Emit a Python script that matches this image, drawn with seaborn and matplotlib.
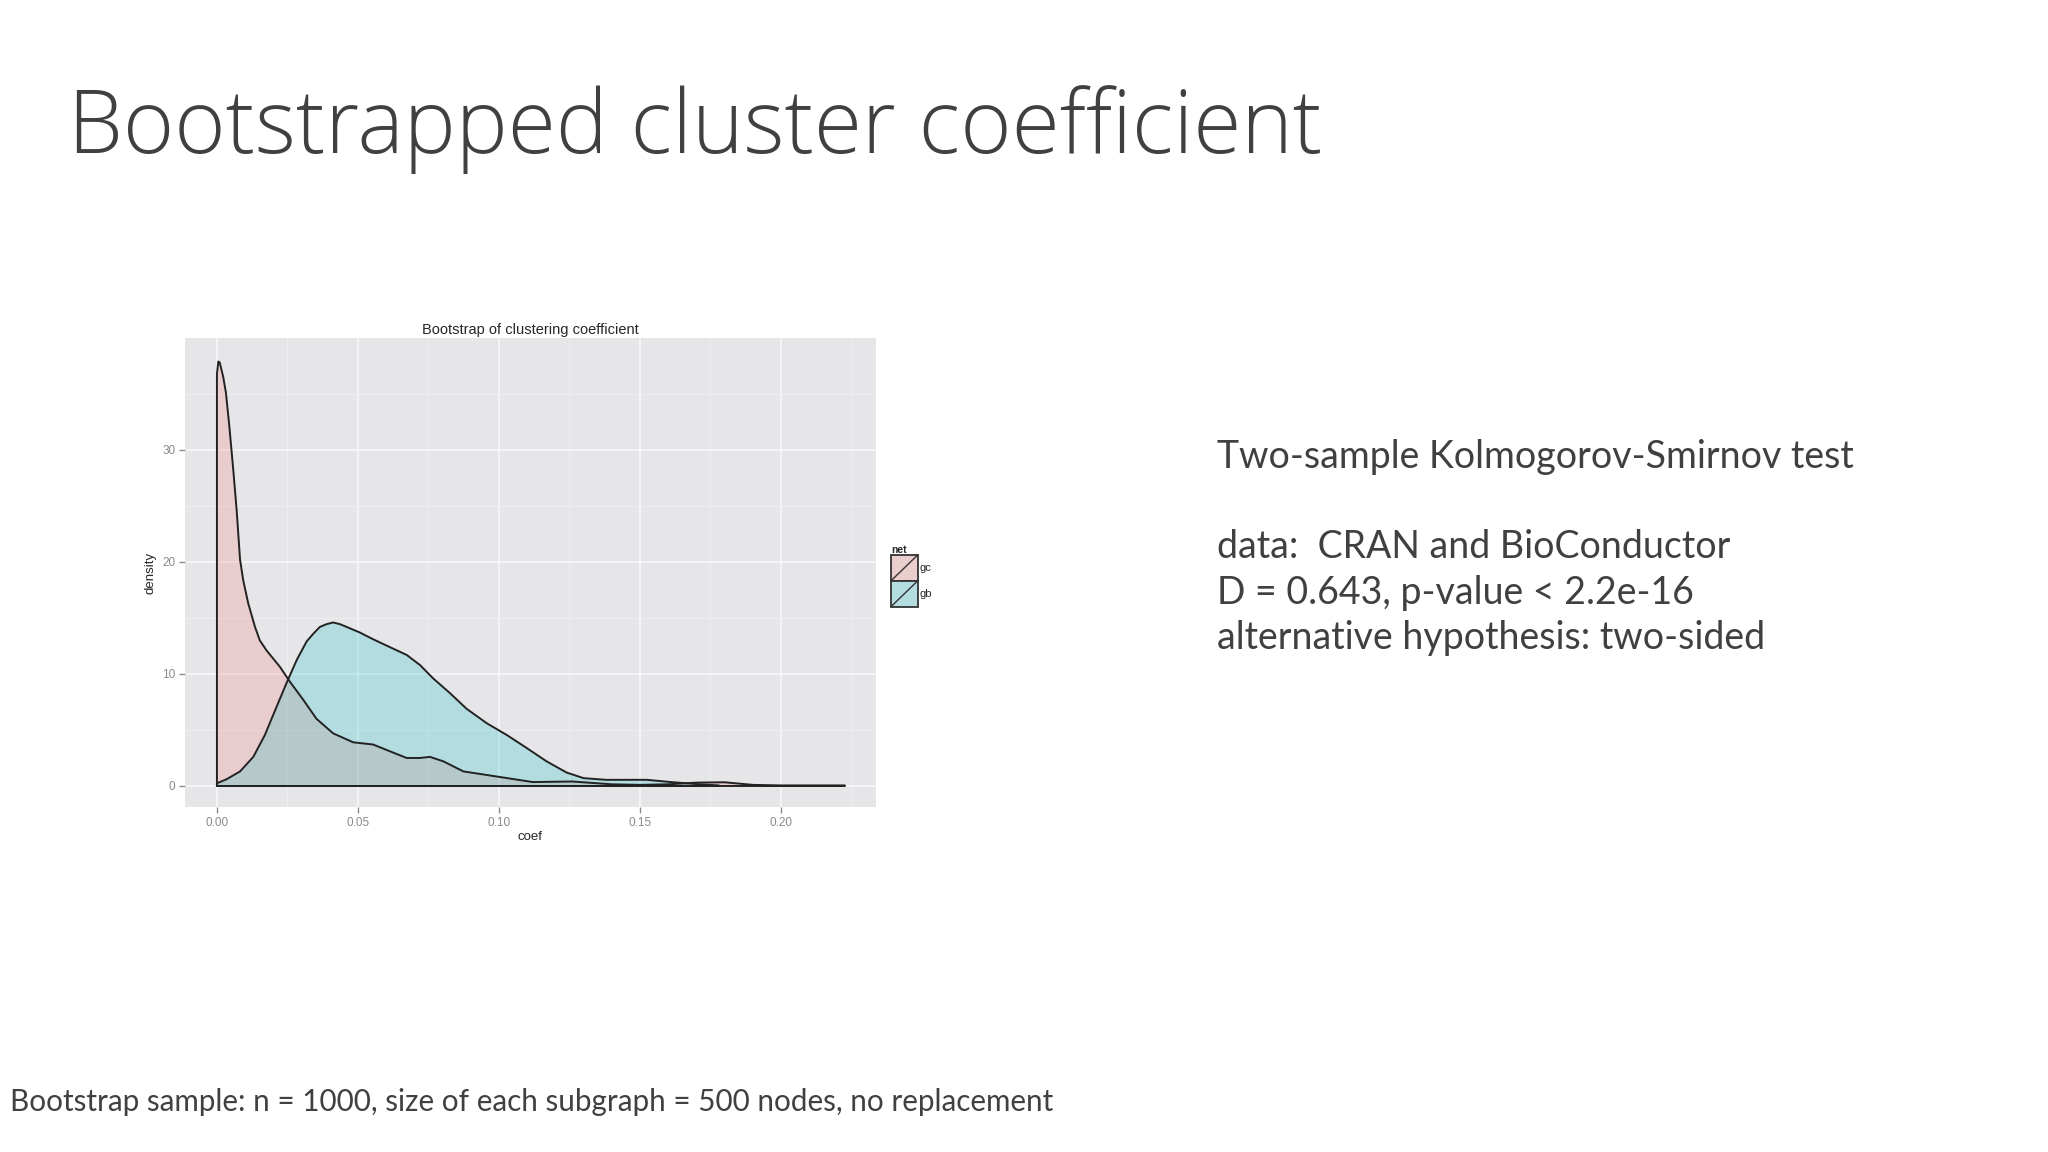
import matplotlib
matplotlib.use("Agg")
import matplotlib.pyplot as plt
import matplotlib.colors as mcolors
import numpy as np
import seaborn as sns
from matplotlib.legend_handler import HandlerBase
from matplotlib.patches import Rectangle
from matplotlib.lines import Line2D

# density curves
gc_x = [0.0, 0.0005, 0.001, 0.00225, 0.0032, 0.0044, 0.0058, 0.0070, 0.0082, 0.0093,
        0.0111, 0.0135, 0.0152, 0.0176, 0.0223, 0.0259, 0.0306, 0.0353, 0.0412,
        0.0483, 0.0554, 0.0613, 0.0673, 0.0720, 0.0755, 0.0803, 0.0874, 0.0991,
        0.112, 0.126, 0.140, 0.150, 0.160, 0.170, 0.180, 0.190, 0.200, 0.210, 0.2227]
gc_y = [36.8, 37.9, 37.8, 36.5, 35.1, 32.1, 28.2, 24.6, 20.2, 18.4,
        16.3, 14.2, 13.0, 12.1, 10.65, 9.3, 7.7, 6.0, 4.7,
        3.9, 3.7, 3.1, 2.5, 2.5, 2.6, 2.2, 1.3, 0.85,
        0.35, 0.4, 0.15, 0.1, 0.15, 0.3, 0.33, 0.1, 0.05, 0.05, 0.05]

gb_x = [0.0, 0.0034, 0.0082, 0.0129, 0.017, 0.0212, 0.0247, 0.0283, 0.0318, 0.0342,
        0.0365, 0.0389, 0.0412, 0.0436, 0.046, 0.0507, 0.0554, 0.0613, 0.0673,
        0.072, 0.0767, 0.0826, 0.0885, 0.0957, 0.1028, 0.1098, 0.1169, 0.124,
        0.13, 0.138, 0.150, 0.1524, 0.161, 0.171, 0.178]
gb_y = [0.24, 0.6, 1.3, 2.6, 4.55, 7.1, 9.2, 11.25, 12.9, 13.6,
        14.2, 14.45, 14.6, 14.45, 14.2, 13.7, 13.1, 12.4, 11.7,
        10.8, 9.6, 8.3, 6.9, 5.6, 4.55, 3.4, 2.2, 1.2,
        0.7, 0.55, 0.55, 0.55, 0.35, 0.15, 0.05]

nets = ["gc", "gb"]
net_colors = {"gc": "#F8766D", "gb": "#00BFC4"}
x_ticks = [0.00, 0.05, 0.10, 0.15, 0.20]
y_ticks = [0, 10, 20, 30]

title = "Bootstrapped cluster coefficient"
chart_title = "Bootstrap of clustering coefficient"
ks_lines = ["Two-sample Kolmogorov-Smirnov test",
            "",
            "data:  CRAN and BioConductor",
            "D = 0.643, p-value < 2.2e-16",
            "alternative hypothesis: two-sided"]
footer = "Bootstrap sample: n = 1000, size of each subgraph = 500 nodes, no replacement"

sns.set_style("white")
plt.rcParams["font.family"] = ["Lato", "DejaVu Sans"]

text_grey = "#404040"
panel_bg = "#E6E5E8"
fill_alpha = 0.22
r_font = ["Liberation Sans", "DejaVu Sans"]


def blend(c):
    a = np.array(mcolors.to_rgb(c))
    b = np.array(mcolors.to_rgb(panel_bg))
    return tuple(fill_alpha * a + (1 - fill_alpha) * b)


class DensityKey(HandlerBase):
    # ggplot style legend key: filled box with a diagonal line
    def create_artists(self, legend, orig, xd, yd, w, h, fontsize, trans):
        box = Rectangle((-xd, -yd), w, h, facecolor=orig.get_facecolor(),
                        edgecolor="#333333", lw=1.3, transform=trans)
        diag = Line2D([-xd, -xd + w], [-yd, -yd + h], color="#333333", lw=1.0,
                      transform=trans)
        return [box, diag]


fig = plt.figure(figsize=(20.48, 11.52), dpi=100)
fig.patch.set_facecolor("white")

ax = fig.add_axes([0.0903, 0.2995, 0.3374, 0.4071])
ax.set_facecolor(panel_bg)

curves = {"gc": (gc_x, gc_y), "gb": (gb_x, gb_y)}
handles = []
for net in nets:
    xs, ys = curves[net]
    ax.fill_between(xs, ys, 0, color=net_colors[net], alpha=fill_alpha, lw=0, zorder=2)
    ox = [xs[0]] + xs + [xs[-1], xs[0]]
    oy = [0] + ys + [0, 0]
    sns.lineplot(x=ox, y=oy, sort=False, estimator=None, color="#222222",
                 lw=1.4, ax=ax, zorder=3)
    handles.append(Rectangle((0, 0), 1, 1, facecolor=blend(net_colors[net]), label=net))

ax.set_xlim(-0.01135, 0.2337)
ax.set_ylim(-1.875, 40.0)
ax.set_xticks(x_ticks)
ax.set_xticklabels([f"{t:.2f}" for t in x_ticks])
ax.set_yticks(y_ticks)
ax.set_xticks([0.025, 0.075, 0.125, 0.175, 0.225], minor=True)
ax.set_yticks([5, 15, 25, 35], minor=True)
ax.grid(which="major", color="#F7F7F8", lw=1.2, zorder=0)
ax.grid(which="minor", color="#EEEEF0", lw=0.8, zorder=0)
ax.set_axisbelow(True)
for s in ax.spines.values():
    s.set_visible(False)
ax.tick_params(which="major", length=4, width=1, color="#8a8a8a",
               labelcolor="#8a8a8a", labelsize=8.5, pad=3)
ax.tick_params(which="minor", length=0)
ax.tick_params(axis="x", bottom=True)
ax.tick_params(axis="y", left=True)
for lab in ax.get_xticklabels() + ax.get_yticklabels():
    lab.set_family(r_font)

ax.set_xlabel("coef", fontsize=9.5, family=r_font, labelpad=2)
ax.set_ylabel("density", fontsize=9.5, family=r_font, labelpad=4)
ax.set_title(chart_title, fontsize=10.5, family=r_font, pad=3)

leg = fig.legend(handles=handles, handler_map={Rectangle: DensityKey()},
                 loc="upper left", bbox_to_anchor=(891 / 2048, 1 - 545 / 1152),
                 frameon=False, handlelength=2.4, handleheight=3.2,
                 labelspacing=0.0, handletextpad=0.2, borderpad=0.0, borderaxespad=0.0,
                 prop={"family": r_font, "size": 8})
leg.set_title("net", prop={"family": r_font, "size": 7.5, "weight": "bold"})
leg._legend_box.align = "left"

fig.text(0.033, 1 - 153 / 1152, title, fontsize=63, color=text_grey,
         family=["Open Sans", "DejaVu Sans"], fontweight="light",
         va="baseline", ha="left")

baselines = [468, 513, 558, 604, 649]
for line, b in zip(ks_lines, baselines):
    if line:
        fig.text(1217 / 2048, 1 - b / 1152, line, fontsize=27, color=text_grey,
                 va="baseline", ha="left")

fig.text(10 / 2048, 1 - 1111 / 1152, footer, fontsize=21.3, color=text_grey,
         va="baseline", ha="left")

fig.savefig("out.png", dpi=100, facecolor="white")
